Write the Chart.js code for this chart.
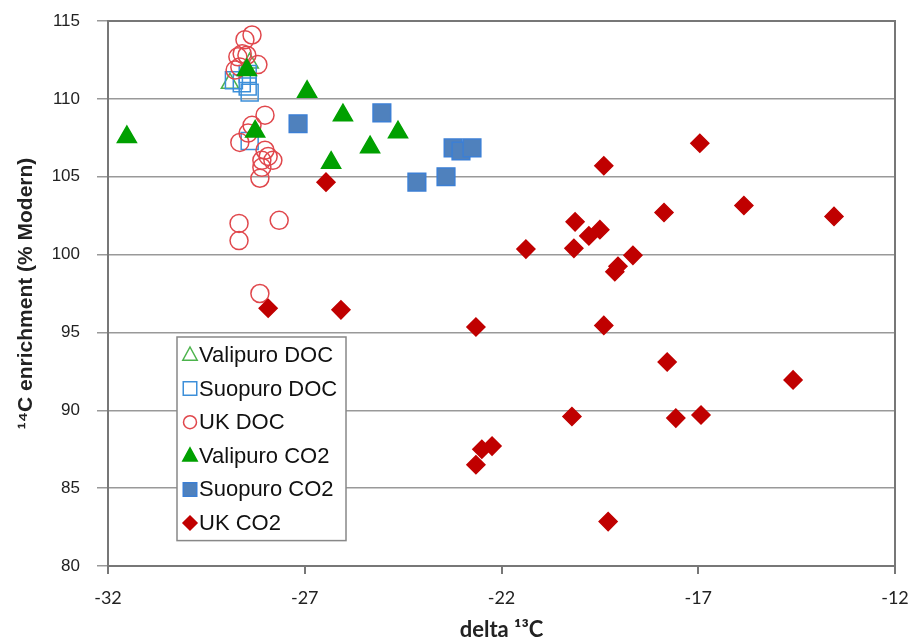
<!DOCTYPE html>
<html>
<head>
<meta charset="utf-8">
<script src="https://cdn.jsdelivr.net/npm/chart.js@4.4.1/dist/chart.umd.min.js"></script>
<style>
html, body { margin: 0; background: #fff; }
</style>
</head>
<body>
<canvas id="chart" width="918" height="643"></canvas>
<script>
// Données : [delta 13C, enrichissement 14C]
const valipuroDoc = [[-28.9, 111.0], [-28.4, 112.3]];
const suopuroDoc = [[-28.8, 111.2], [-28.6, 111.0], [-28.45, 110.8], [-28.4, 110.4], [-28.45, 111.6], [-28.4, 107.3]];
const ukDoc = [
    [-28.34, 114.1], [-28.52, 113.8], [-28.59, 112.9], [-28.7, 112.7], [-28.47, 112.8],
    [-28.19, 112.2], [-28.77, 111.85], [-28.65, 112.05], [-28.01, 108.95], [-28.34, 108.3],
    [-28.65, 107.2], [-28.44, 107.8], [-28.01, 106.7], [-27.93, 106.3], [-28.09, 106.05],
    [-27.81, 106.05], [-28.09, 105.6], [-28.14, 104.9], [-28.67, 102.0], [-28.67, 100.9],
    [-27.65, 102.2], [-28.14, 97.5]
];
const valipuroCo2 = [[-31.52, 107.55], [-28.47, 111.85], [-28.26, 107.9], [-26.94, 110.45], [-26.03, 108.95], [-24.63, 107.85], [-25.34, 106.9], [-26.33, 105.9]];
const suopuroCo2 = [[-27.17, 108.4], [-25.04, 109.1], [-24.15, 104.65], [-23.41, 105.0], [-23.23, 106.85], [-23.03, 106.65], [-22.75, 106.85]];
const ukCo2 = [
    [-27.93, 96.55], [-26.46, 104.65], [-26.08, 96.45], [-22.65, 95.35], [-21.38, 100.35],
    [-20.16, 100.4], [-20.13, 102.1], [-19.78, 101.2], [-19.5, 101.6], [-19.4, 105.7],
    [-19.04, 99.25], [-19.12, 98.9], [-18.66, 99.95], [-19.4, 95.45], [-20.21, 89.6],
    [-17.57, 89.5], [-16.93, 89.7], [-22.5, 87.5], [-22.24, 87.7], [-22.65, 86.5],
    [-19.29, 82.85], [-17.87, 102.7], [-16.96, 107.15], [-15.84, 103.15], [-13.55, 102.45],
    [-17.79, 93.1], [-14.59, 91.95]
];

const seriesNames = ['Valipuro DOC', 'Suopuro DOC', 'UK DOC', 'Valipuro CO2', 'Suopuro CO2', 'UK CO2'];
const xTicks = [-32, -27, -22, -17, -12];
const yTicks = [80, 85, 90, 95, 100, 105, 110, 115];

const toPoints = arr => arr.map(p => ({ x: p[0], y: p[1] }));

const styles = [
    { pointStyle: 'triangle', radius: 10, bg: 'rgba(0,0,0,0)', border: '#4CB34C', legendR: 8 },
    { pointStyle: 'rect', radius: 12, bg: 'rgba(0,0,0,0)', border: '#3D8FD9', legendR: 9 },
    { pointStyle: 'circle', radius: 9, bg: 'rgba(0,0,0,0)', border: '#E0474C', legendR: 6.5 },
    { pointStyle: 'triangle', radius: 11, bg: '#00A000', border: '#00A000', legendR: 8 },
    { pointStyle: 'rect', radius: 12.5, bg: '#4F81BD', border: '#3C7FD4', legendR: 9 },
    { pointStyle: 'rectRot', radius: 9, bg: '#C00000', border: '#C00000', legendR: 7 }
];

const allSeries = [valipuroDoc, suopuroDoc, ukDoc, valipuroCo2, suopuroCo2, ukCo2];

const datasets = allSeries.map((serie, i) => ({
    label: seriesNames[i],
    data: toPoints(serie),
    pointStyle: styles[i].pointStyle,
    pointRadius: styles[i].radius,
    pointBackgroundColor: styles[i].bg,
    pointBorderColor: styles[i].border,
    pointBorderWidth: 1.5,
    order: allSeries.length - i
}));

// Cadre du graphique (haut et droite)
const framePlugin = {
    id: 'frame',
    beforeDatasetsDraw(chart) {
        const { ctx, chartArea: a } = chart;
        ctx.save();
        ctx.strokeStyle = '#777';
        ctx.lineWidth = 2;
        ctx.strokeRect(a.left, a.top, a.right - a.left, a.bottom - a.top);
        ctx.restore();
    }
};

// Symbole de légende
function drawSymbol(ctx, st, x, y) {
    const r = st.legendR;
    ctx.beginPath();
    if (st.pointStyle === 'triangle') {
        ctx.moveTo(x, y - r);
        ctx.lineTo(x + r * 0.9, y + r * 0.65);
        ctx.lineTo(x - r * 0.9, y + r * 0.65);
        ctx.closePath();
    } else if (st.pointStyle === 'rect') {
        const s = r * 0.75;
        ctx.rect(x - s, y - s, 2 * s, 2 * s);
    } else if (st.pointStyle === 'circle') {
        ctx.arc(x, y, r, 0, Math.PI * 2);
    } else {
        ctx.moveTo(x, y - r);
        ctx.lineTo(x + r, y);
        ctx.lineTo(x, y + r);
        ctx.lineTo(x - r, y);
        ctx.closePath();
    }
    ctx.fillStyle = st.bg;
    ctx.fill();
    ctx.strokeStyle = st.border;
    ctx.lineWidth = 1.5;
    ctx.stroke();
}

// Légende à l'intérieur de la zone de tracé
const legendPlugin = {
    id: 'insideLegend',
    afterDraw(chart) {
        const ctx = chart.ctx;
        const left = 177, top = 337, width = 169, rowH = 33.6;
        const height = rowH * seriesNames.length + 2;
        ctx.save();
        ctx.fillStyle = '#fff';
        ctx.fillRect(left, top, width, height);
        ctx.strokeStyle = '#888';
        ctx.lineWidth = 1.5;
        ctx.strokeRect(left, top, width, height);
        ctx.font = '22px "Liberation Sans", Arial, sans-serif';
        ctx.textBaseline = 'middle';
        seriesNames.forEach((name, i) => {
            const y = top + 18 + i * rowH;
            drawSymbol(ctx, styles[i], 190, y);
            ctx.fillStyle = '#111';
            ctx.fillText(name, 199, y + 1);
        });
        ctx.restore();
    }
};

new Chart(document.getElementById('chart'), {
    type: 'scatter',
    data: { datasets },
    options: {
        responsive: false,
        animation: false,
        layout: { padding: { top: 21, right: 23, left: 0, bottom: 0 } },
        plugins: {
            legend: { display: false },
            tooltip: { enabled: false }
        },
        scales: {
            x: {
                type: 'linear',
                min: xTicks[0],
                max: xTicks[xTicks.length - 1],
                afterBuildTicks: s => { s.ticks = xTicks.map(v => ({ value: v })); },
                afterFit: s => { s.height = 77; s.paddingLeft = 0; s.paddingRight = 0; },
                ticks: {
                    color: '#222',
                    font: { family: 'Lato, "Liberation Sans", sans-serif', size: 18 },
                    padding: 13
                },
                grid: { drawOnChartArea: false, drawTicks: true, tickLength: 8, color: '#777', lineWidth: 2 },
                border: { display: true, color: '#777', width: 2 },
                title: {
                    display: true,
                    text: 'delta ¹³C',
                    color: '#222',
                    font: { family: 'Lato, "Liberation Sans", sans-serif', size: 22, weight: 'bold' },
                    padding: { top: 0, bottom: 0 }
                }
            },
            y: {
                min: yTicks[0],
                max: yTicks[yTicks.length - 1],
                afterBuildTicks: s => { s.ticks = yTicks.map(v => ({ value: v })); },
                afterFit: s => { s.width = 108; s.paddingTop = 0; s.paddingBottom = 0; },
                ticks: {
                    color: '#222',
                    font: { family: '"Liberation Sans", Arial, sans-serif', size: 17 },
                    padding: 17
                },
                grid: { color: '#999', lineWidth: 1.5, drawTicks: true, tickLength: 11 },
                border: { display: true, color: '#777', width: 2 },
                title: {
                    display: true,
                    text: '¹⁴C enrichment (% Modern)',
                    color: '#222',
                    font: { family: '"Liberation Sans", Arial, sans-serif', size: 21, weight: 'bold' },
                    padding: { top: 14, bottom: 0 }
                }
            }
        }
    },
    plugins: [framePlugin, legendPlugin]
});
</script>
</body>
</html>
